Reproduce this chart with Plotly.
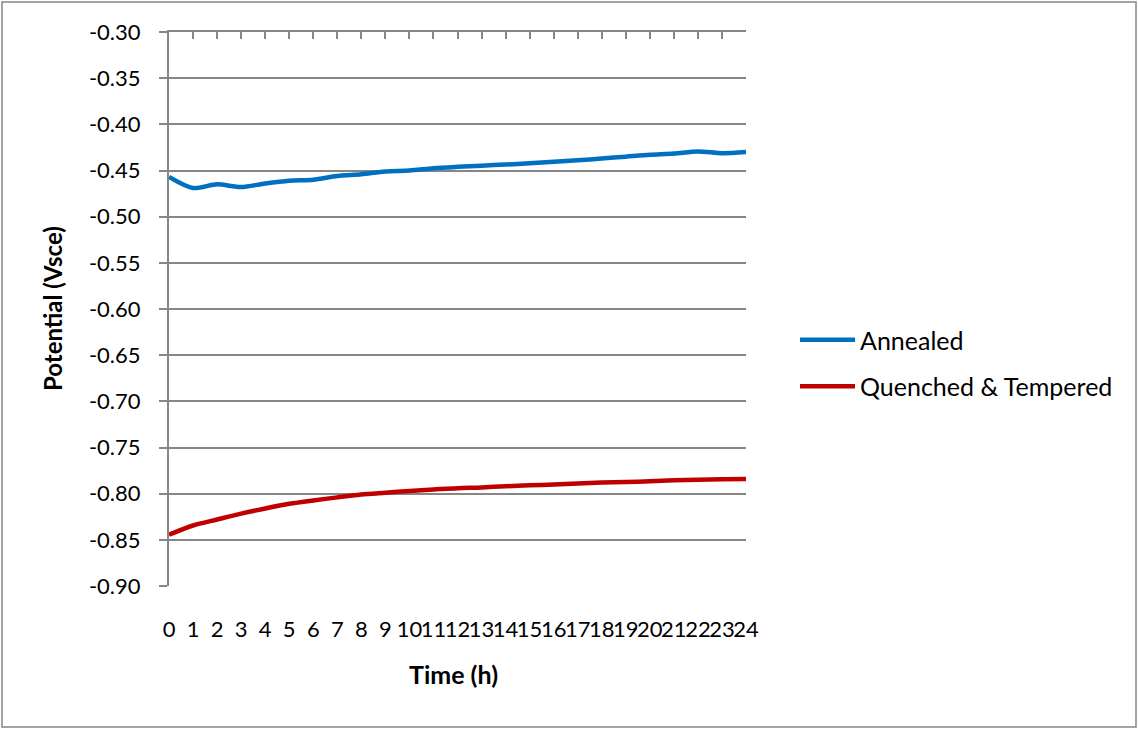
import plotly.graph_objects as go

# Open-circuit potential over 24 h of immersion
hours = list(range(25))
annealed = [-0.457, -0.469, -0.465, -0.468, -0.464, -0.461, -0.460, -0.456, -0.454,
            -0.451, -0.450, -0.4475, -0.446, -0.4448, -0.4435, -0.4422, -0.4405, -0.439,
            -0.437, -0.435, -0.433, -0.4317, -0.4293, -0.4313, -0.430]
quenched_tempered = [-0.8445, -0.8345, -0.828, -0.8216, -0.816, -0.811, -0.8073, -0.804,
                     -0.801, -0.799, -0.797, -0.7955, -0.794, -0.7932, -0.792, -0.791,
                     -0.790, -0.789, -0.788, -0.7875, -0.7865, -0.7855, -0.785, -0.7845,
                     -0.784]
y_ticks = [-0.30, -0.35, -0.40, -0.45, -0.50, -0.55, -0.60, -0.65, -0.70, -0.75,
           -0.80, -0.85, -0.90]

GRID = "#868686"
FONT = "Lato"
W, H = 1138, 729
L, R, T, B = 169, 392, 32, 143
pw, ph = W - L - R, H - T - B

fig = go.Figure()
fig.add_trace(go.Scatter(x=hours, y=annealed, mode="lines", name="Annealed",
                         legendgroup="a",
                         line=dict(color="#0070C0", width=4.5, shape="spline", smoothing=0.8)))
fig.add_trace(go.Scatter(x=hours, y=quenched_tempered, mode="lines",
                         name="Quenched & Tempered", legendgroup="b",
                         line=dict(color="#C00000", width=4.5, shape="spline", smoothing=0.8)))
# invisible trace that carries the top axis with its inside tick marks
fig.add_trace(go.Scatter(x=[0, 24], y=[-0.3, -0.3], xaxis="x2", mode="lines",
                         line=dict(width=0), hoverinfo="skip", showlegend=False))

fig.update_layout(
    width=W, height=H,
    margin=dict(l=L, r=R, t=T, b=B),
    paper_bgcolor="white", plot_bgcolor="white",
    font=dict(family=FONT, size=22, color="black"),
    xaxis=dict(range=[0, 24], tickmode="array", tickvals=hours,
               ticktext=[str(h) for h in hours], tickangle=0,
               showgrid=False, zeroline=False, showline=False, ticks="",
               ticklabelstandoff=28, tickfont=dict(size=22)),
    xaxis2=dict(range=[0, 24], overlaying="x", side="top", tickmode="array",
                tickvals=hours, showticklabels=False, ticks="inside", ticklen=7,
                tickwidth=1.5, tickcolor=GRID, showline=True, linecolor=GRID,
                linewidth=2, showgrid=False, zeroline=False),
    yaxis=dict(range=[-0.90, -0.30], tickmode="array", tickvals=y_ticks,
               ticktext=[f"{v:.2f}" for v in y_ticks], showgrid=True,
               gridcolor=GRID, gridwidth=2, zeroline=False, showline=True,
               linecolor=GRID, linewidth=2, ticks="outside", ticklen=8,
               tickwidth=2, tickcolor=GRID, ticklabelstandoff=14,
               tickfont=dict(size=22)),
    showlegend=True,
    legend=dict(x=(795 - L) / pw, y=(586 - 317) / ph, xanchor="left", yanchor="top",
                font=dict(size=25), traceorder="grouped", tracegroupgap=11,
                itemwidth=55, bgcolor="rgba(0,0,0,0)"),
    annotations=[
        dict(text="<b>Time (h)</b>", x=(453 - L) / pw, y=(586 - 674) / ph,
             xref="paper", yref="paper", showarrow=False, font=dict(size=25),
             xanchor="center", yanchor="middle"),
        dict(text="<b>Potential (Vsce)</b>", x=(52 - L) / pw, y=(586 - 309) / ph,
             xref="paper", yref="paper", showarrow=False, textangle=-90,
             font=dict(size=24), xanchor="center", yanchor="middle"),
    ],
    shapes=[dict(type="rect", xref="paper", yref="paper",
                 x0=(2 - L) / pw, x1=(1136 - L) / pw,
                 y0=(586 - 727) / ph, y1=(586 - 2) / ph,
                 line=dict(color=GRID, width=1.5), layer="below")],
)

fig.write_html("out.html")
